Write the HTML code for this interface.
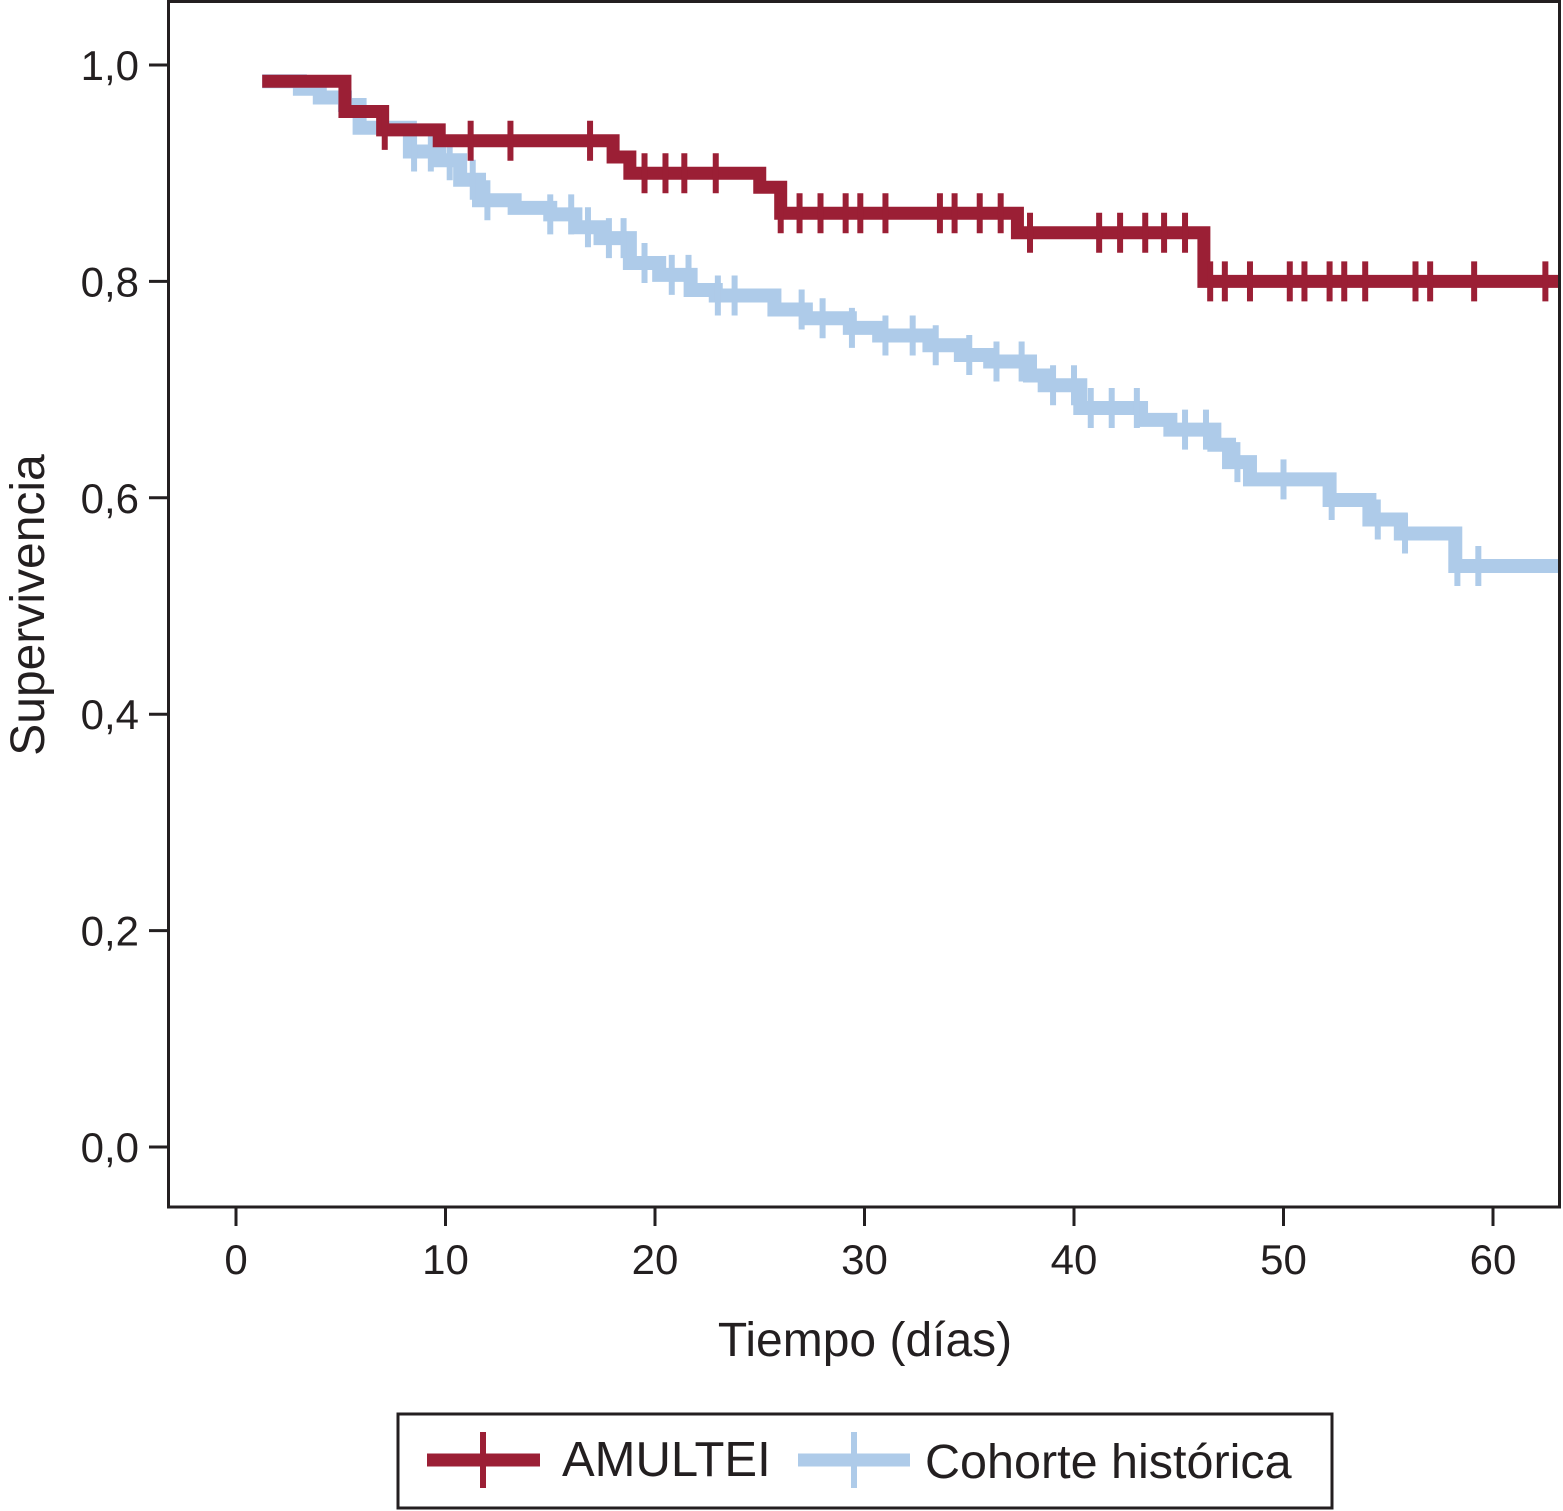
<!DOCTYPE html>
<html><head><meta charset="utf-8"><style>
html,body{margin:0;padding:0;background:#fff;}
svg{display:block;font-family:"Liberation Sans",Arial,sans-serif;}
</style></head><body>
<svg id="chart" width="1563" height="1511" viewBox="0 0 1563 1511" xmlns="http://www.w3.org/2000/svg">
<rect x="0" y="0" width="1563" height="1511" fill="#fff"/>
<g id="series"></g>
<rect x="168.5" y="1.5" width="1391" height="1205.5" fill="none" stroke="#231f20" stroke-width="3"/>
<g id="axes" fill="#231f20" font-size="42"></g>
<text x="44" y="605" font-size="48" fill="#231f20" text-anchor="middle" transform="rotate(-90 44 605)">Supervivencia</text>
<text x="865" y="1356" font-size="48" fill="#231f20" text-anchor="middle">Tiempo (días)</text>
<g>
<rect x="398" y="1414" width="934" height="94" fill="#fff" stroke="#231f20" stroke-width="3"/>
<g>
<line x1="427" y1="1460" x2="540" y2="1460" stroke="#9b1f35" stroke-width="13"/>
<line x1="483" y1="1432" x2="483" y2="1488" stroke="#9b1f35" stroke-width="6"/>
<text x="562" y="1476" font-size="49" fill="#231f20">AMULTEI</text>
</g>
<g>
<line x1="798" y1="1460" x2="910" y2="1460" stroke="#aecbe9" stroke-width="13"/>
<line x1="854" y1="1432" x2="854" y2="1488" stroke="#aecbe9" stroke-width="6"/>
<text x="925" y="1478" font-size="48.5" fill="#231f20">Cohorte histórica</text>
</g>
</g>
</svg>
<script>
const xTicks=[0,10,20,30,40,50,60];
const yTicks=[0,0.2,0.4,0.6,0.8,1.0];
const tEnd=63.2;
const redStepT=[1.25,5.2,7.0,9.7,18.0,18.8,25.0,26.0,37.3,46.2];
const redStepS=[0.985,0.957,0.94,0.93,0.915,0.90,0.887,0.863,0.845,0.80];
const redCens=[7.1,11.2,13.1,16.9,19.5,20.5,21.4,22.9,26.0,26.9,27.9,29.1,29.8,31.0,33.6,34.3,35.5,36.5,37.9,41.2,42.2,43.4,44.3,45.3,46.5,47.2,48.4,50.3,51.0,52.2,52.9,53.9,56.3,57.0,59.1,62.5];
const blueStepT=[1.25,3.05,4.0,5.2,5.9,8.3,9.7,10.7,11.6,13.3,15.0,16.2,17.4,18.8,20.2,21.7,22.9,25.7,27.2,29.3,30.7,33.1,34.6,36.0,37.9,38.6,40.3,43.2,44.6,46.7,47.4,48.4,52.2,54.1,55.6,58.2];
const blueStepS=[0.985,0.978,0.97,0.963,0.942,0.92,0.912,0.894,0.875,0.868,0.862,0.85,0.84,0.817,0.806,0.792,0.787,0.774,0.766,0.757,0.75,0.741,0.732,0.726,0.713,0.704,0.683,0.672,0.663,0.649,0.633,0.617,0.598,0.58,0.567,0.537];
const blueCens=[8.5,9.3,10.2,11.3,12.0,15.0,16.0,16.8,17.8,18.5,19.5,20.8,21.6,23.0,23.8,27.0,28.0,29.4,31.0,32.3,33.4,35.0,36.3,37.5,39.0,40.0,40.8,41.8,43.0,45.3,46.3,47.8,50.0,52.3,54.5,55.8,58.3,59.3];

const X=t=>236+t*20.95;
const Y=s=>1147-s*1082;
const NS="http://www.w3.org/2000/svg";
function mk(tag,attrs,parent){const e=document.createElementNS(NS,tag);for(const k in attrs)e.setAttribute(k,attrs[k]);parent.appendChild(e);return e;}
const axes=document.getElementById('axes');
xTicks.forEach(v=>{
  const l=mk('line',{x1:X(v),x2:X(v),y1:1207,y2:1226,stroke:'#231f20','stroke-width':3},axes);
  
  
  const t=mk('text',{x:X(v),y:1274,'text-anchor':'middle'},axes);t.textContent=v;
  
  
});
yTicks.forEach(v=>{
  const l=mk('line',{x1:149,x2:168,y1:Y(v),y2:Y(v),stroke:'#231f20','stroke-width':3},axes);
  
  
  const t=mk('text',{x:139,y:Y(v)+15,'text-anchor':'end'},axes);t.textContent=v.toFixed(1).replace('.',',');
  
  
});
function stepAt(T,S,t){let s=S[0];for(let i=0;i<T.length;i++){if(T[i]<=t)s=S[i];}return s;}
function draw(T,S,C,color,w,name){
  const g=mk('g',{},document.getElementById('series'));
  
  
  let d='M'+X(T[0])+' '+Y(S[0]);
  for(let i=1;i<T.length;i++){d+=' H'+X(T[i])+' V'+Y(S[i]);}
  d+=' H'+X(tEnd);
  const p=mk('path',{d:d,fill:'none',stroke:color,'stroke-width':w,'stroke-linejoin':'miter','stroke-linecap':'butt'},g);
  
  
  C.forEach(t=>{const y=Y(stepAt(T,S,t));
    const c=mk('line',{x1:X(t),x2:X(t),y1:y-20,y2:y+20,stroke:color,'stroke-width':6},g);
    
    
  });
}
draw(blueStepT,blueStepS,blueCens,'#aecbe9',14,'series-cohorte-historica');
draw(redStepT,redStepS,redCens,'#9b1f35',13,'series-amultei');
</script>
</body></html>
